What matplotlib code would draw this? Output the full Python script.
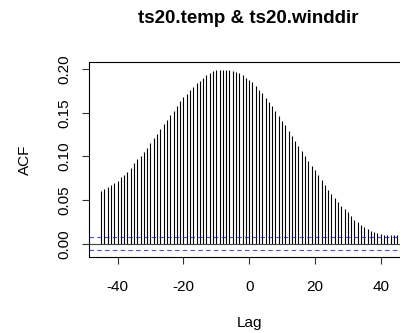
import numpy as np
import matplotlib
matplotlib.use("Agg")
import matplotlib.pyplot as plt

plt.rcParams['font.family'] = ['Liberation Sans', 'DejaVu Sans']

# cross-correlation of temperature and wind direction
lags = np.arange(-45, 46)
acf = [0.060, 0.0625, 0.065, 0.067, 0.069, 0.072, 0.076, 0.079, 0.082, 0.087,
       0.092, 0.0966, 0.1008, 0.105, 0.110, 0.1157, 0.121, 0.126, 0.131, 0.137,
       0.142, 0.147, 0.1525, 0.158, 0.163, 0.168, 0.172, 0.176, 0.180, 0.184,
       0.1866, 0.190, 0.1935, 0.196, 0.198, 0.1985, 0.1992, 0.1995, 0.1995, 0.1989,
       0.198, 0.1966, 0.1954, 0.1927, 0.190, 0.1877, 0.1847, 0.181, 0.1766, 0.1724,
       0.1674, 0.1625, 0.1575, 0.152, 0.1467, 0.141, 0.1356, 0.1295, 0.1234, 0.118,
       0.1119, 0.1061, 0.1004, 0.095, 0.0893, 0.0839, 0.0785, 0.0728, 0.067, 0.062,
       0.0575, 0.0525, 0.048, 0.0437, 0.040, 0.036, 0.0314, 0.0276, 0.025, 0.0218,
       0.0192, 0.0165, 0.0146, 0.013, 0.0119, 0.0107, 0.0105, 0.0103, 0.0103, 0.0103,
       0.0103]
clim = 0.0073
xticks = [-40, -20, 0, 20, 40]
yticks = [0.00, 0.05, 0.10, 0.15, 0.20]

fig = plt.figure(figsize=(4, 3.33), dpi=100)
ax = fig.add_axes([0.2233, 0.2273, 0.7992, 0.5856])

ax.vlines(lags, 0, acf, color='black', linewidth=0.8)
ax.axhline(0, color='#444444', linewidth=0.8)
ax.axhline(clim, color='blue', linewidth=0.8, linestyle=(0, (4, 3)), alpha=0.7)
ax.axhline(-clim, color='blue', linewidth=0.8, linestyle=(0, (4, 3)), alpha=0.7)

rng = 45 * 2
ax.set_xlim(-45 - 0.04 * rng, 45 + 0.04 * rng)
ymin, ymax = -clim, max(acf)
yr = ymax - ymin
ax.set_ylim(ymin - 0.04 * yr, ymax + 0.04 * yr)

ax.set_xticks(xticks)
ax.set_xticklabels([str(t) for t in xticks], fontsize=11)
ax.set_yticks(yticks)
ax.set_yticklabels(['%.2f' % t for t in yticks], fontsize=11, rotation=90, va='center')
ax.tick_params(axis='both', direction='out', length=5, width=0.8, colors='#333333',
               labelcolor='black')
ax.tick_params(axis='x', pad=11)
ax.tick_params(axis='y', pad=8)
for s in ax.spines.values():
    s.set_linewidth(0.8)

ax.set_xlabel('Lag', fontsize=11, labelpad=16)
ax.set_ylabel('ACF', fontsize=11, labelpad=18)
fig.text(0.62, 0.945, 'ts20.temp & ts20.winddir', fontsize=13.5,
         fontweight='bold', ha='center', va='center')

fig.savefig('out.png', dpi=100)
